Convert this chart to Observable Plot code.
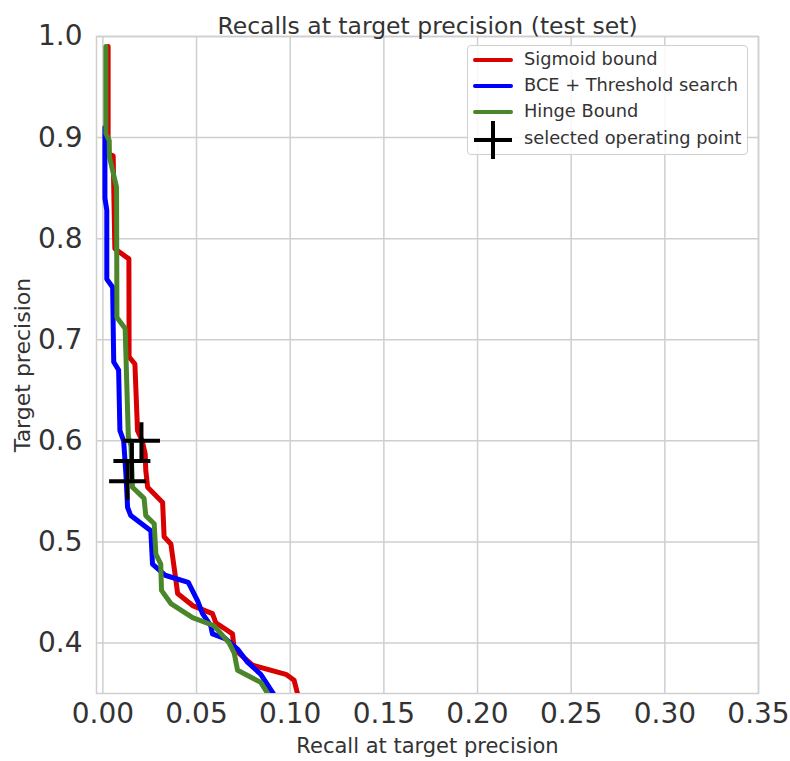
<!DOCTYPE html>
<html>
<head>
<meta charset="utf-8">
<script src="https://cdn.jsdelivr.net/npm/d3@7"></script>
<script src="https://cdn.jsdelivr.net/npm/@observablehq/plot@0.6"></script>
<style>
  body { margin: 0; background: #fff; }
  #wrap { position: relative; width: 790px; height: 761px; font-family: "DejaVu Sans", sans-serif; color: #333; }
  #legend { position: absolute; left: 467px; top: 45px; width: 281px; height: 110px; border: 1px solid #d0d0d0; border-radius: 4px; background: rgba(255,255,255,0.85); box-sizing: border-box; }
  .row { position: absolute; left: 0; height: 26px; width: 100%; }
  .sw { position: absolute; left: 5px; top: 11px; width: 40px; height: 4px; border-radius: 2px; }
  .lab { position: absolute; left: 56px; top: 1px; font-size: 17.8px; white-space: nowrap; color: #333; }
  .plusv { position: absolute; left: 23px; top: -5px; width: 4px; height: 38px; background: #000; }
  .plush { position: absolute; left: 6px; top: 12px; width: 38px; height: 4px; background: #000; }
</style>
</head>
<body>
<div id="wrap"></div>
<script>
// Sigmoid bound (red)
const redPrec = [0.99, 0.884, 0.882, 0.79, 0.78, 0.683, 0.676, 0.61, 0.60, 0.587, 0.571, 0.554, 0.539, 0.505, 0.498, 0.462, 0.449, 0.437, 0.429, 0.42, 0.409, 0.394, 0.378, 0.369, 0.363, 0.35];
const redRec  = [0.0028, 0.0028, 0.0055, 0.0064, 0.0139, 0.0140, 0.0171, 0.0185, 0.0210, 0.0226, 0.0229, 0.0239, 0.0319, 0.0327, 0.0363, 0.0390, 0.0399, 0.0479, 0.0585, 0.0603, 0.0692, 0.0701, 0.0799, 0.0977, 0.1021, 0.1039];
// BCE + Threshold search (blue)
const bluePrec = [0.91, 0.84, 0.828, 0.76, 0.752, 0.678, 0.67, 0.61, 0.60, 0.567, 0.534, 0.526, 0.511, 0.478, 0.467, 0.46, 0.442, 0.429, 0.417, 0.409, 0.404, 0.394, 0.381, 0.369, 0.35];
const blueRec  = [0.0011, 0.0011, 0.0021, 0.0021, 0.0052, 0.0058, 0.0084, 0.0091, 0.0111, 0.0123, 0.0132, 0.0149, 0.0256, 0.0265, 0.0332, 0.0456, 0.0505, 0.0532, 0.0576, 0.0585, 0.0656, 0.0719, 0.0772, 0.0843, 0.0910];
// Hinge Bound (green)
const greenPrec = [0.99, 0.904, 0.897, 0.881, 0.851, 0.722, 0.711, 0.604, 0.595, 0.554, 0.543, 0.526, 0.518, 0.488, 0.478, 0.452, 0.439, 0.425, 0.417, 0.40, 0.39, 0.373, 0.361, 0.35];
const greenRec  = [0.0016, 0.0016, 0.0034, 0.0035, 0.0073, 0.0075, 0.0119, 0.0136, 0.0150, 0.0158, 0.0220, 0.0229, 0.0274, 0.0283, 0.0309, 0.0313, 0.0363, 0.0479, 0.0594, 0.0674, 0.0701, 0.0719, 0.0843, 0.0880];
// selected operating points
const opPrec = [0.60, 0.58, 0.56];
const opRec  = [0.0206, 0.0155, 0.0132];

const xTicks = [0, 0.05, 0.10, 0.15, 0.20, 0.25, 0.30, 0.35];
const yTicks = [0.4, 0.5, 0.6, 0.7, 0.8, 0.9, 1.0];

const seriesNames = ["Sigmoid bound", "BCE + Threshold search", "Hinge Bound"];
const seriesColors = ["#d80000", "#0000ff", "#4a862a"];
const opLabel = "selected operating point";
const title = "Recalls at target precision (test set)";
const xLabel = "Recall at target precision";
const yLabel = "Target precision";

const zip = (xs, ys) => xs.map((x, i) => ({x, y: ys[i]}));
const red = zip(redRec, redPrec);
const blue = zip(blueRec, bluePrec);
const green = zip(greenRec, greenPrec);
const ops = zip(opRec, opPrec);

const plusSymbol = {
  draw(ctx, size) {
    const r = Math.sqrt(size / Math.PI);
    ctx.moveTo(-r, 0); ctx.lineTo(r, 0);
    ctx.moveTo(0, -r); ctx.lineTo(0, r);
  }
};

const chart = Plot.plot({
  width: 790,
  height: 761,
  marginLeft: 96,
  marginRight: 32,
  marginTop: 36,
  marginBottom: 68,
  style: {fontFamily: "DejaVu Sans, sans-serif", color: "#333", background: "#fff"},
  x: {domain: [-0.0034, 0.35]},
  y: {domain: [0.35, 1.0]},
  marks: [
    Plot.gridX(xTicks, {stroke: "#cfcfcf", strokeOpacity: 1, strokeWidth: 1.5}),
    Plot.gridY(yTicks, {stroke: "#cfcfcf", strokeOpacity: 1, strokeWidth: 1.5}),
    Plot.frame({stroke: "#cfcfcf", strokeWidth: 1.5}),
    Plot.axisX(xTicks, {tickSize: 0, tickPadding: 10, fontSize: 28, tickFormat: d3.format(".2f"), label: null}),
    Plot.axisY(yTicks, {tickSize: 0, tickPadding: 14, fontSize: 28, tickFormat: d3.format(".1f"), label: null}),
    Plot.line(red, {x: "x", y: "y", stroke: seriesColors[0], strokeWidth: 5, clip: true}),
    Plot.line(blue, {x: "x", y: "y", stroke: seriesColors[1], strokeWidth: 5, clip: true}),
    Plot.line(green, {x: "x", y: "y", stroke: seriesColors[2], strokeWidth: 5, clip: true}),
    Plot.dot(ops, {x: "x", y: "y", symbol: plusSymbol, r: 18.5, stroke: "#000", strokeWidth: 4, fill: "none"}),
    Plot.text([title], {frameAnchor: "top", dy: -19, fontSize: 23.5, fill: "#333", text: d => d}),
    Plot.text([xLabel], {frameAnchor: "bottom", dy: 59, fontSize: 21, fill: "#333", text: d => d}),
    Plot.text([yLabel], {frameAnchor: "left", dx: -74, rotate: -90, textAnchor: "middle", fontSize: 22, fill: "#333", text: d => d})
  ]
});
const wrap = document.getElementById("wrap");
wrap.appendChild(chart);

const legend = document.createElement("div");
legend.id = "legend";
const rowsTop = [1, 27, 53, 80];
seriesNames.forEach((name, i) => {
  const row = document.createElement("div");
  row.className = "row";
  row.style.top = rowsTop[i] + "px";
  row.innerHTML = `<div class="sw" style="background:${seriesColors[i]}"></div><div class="lab">${name}</div>`;
  legend.appendChild(row);
});
const row = document.createElement("div");
row.className = "row";
row.style.top = rowsTop[3] + "px";
row.innerHTML = `<div class="plusv"></div><div class="plush"></div><div class="lab">${opLabel}</div>`;
legend.appendChild(row);
wrap.appendChild(legend);
</script>
</body>
</html>
